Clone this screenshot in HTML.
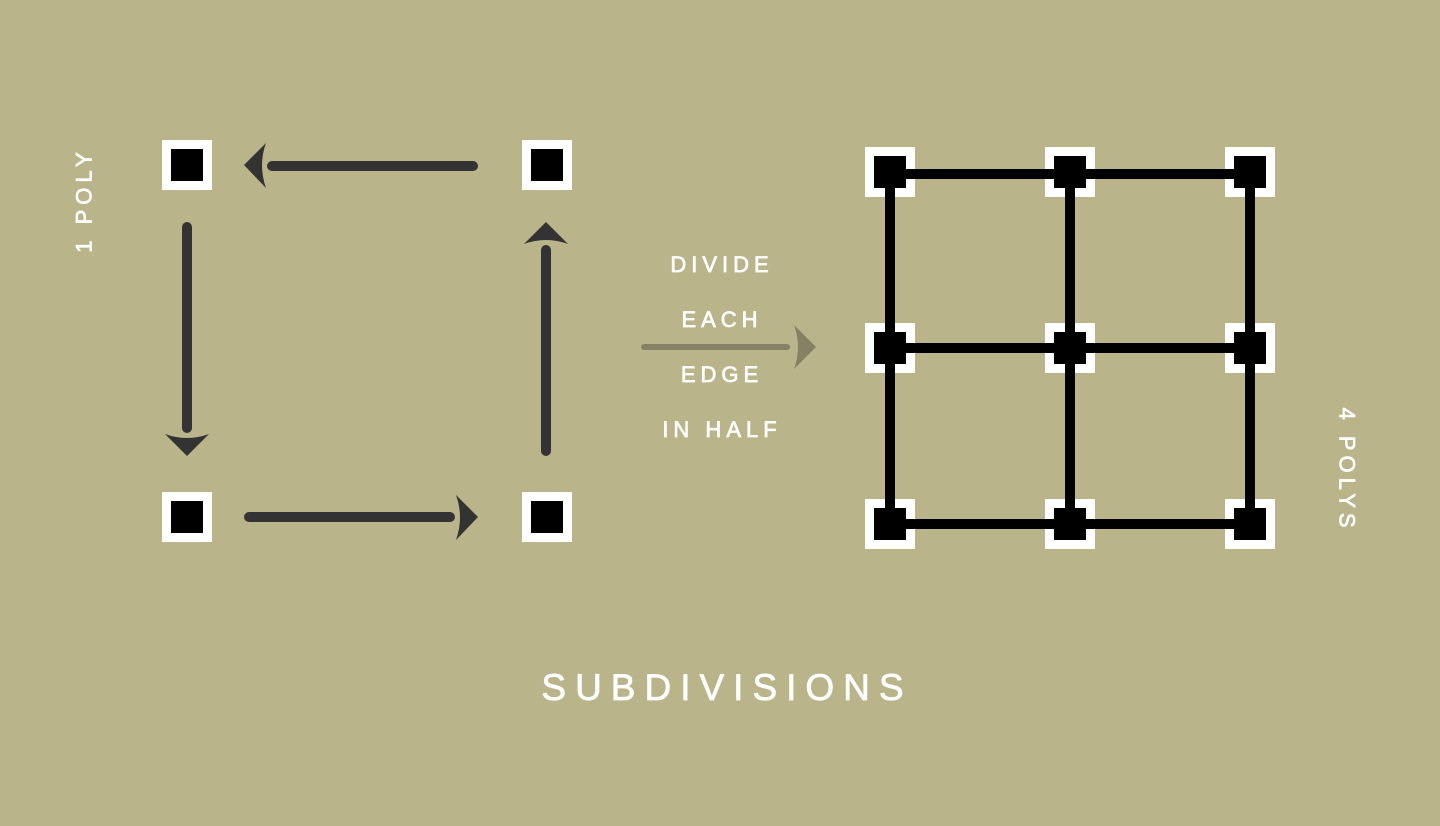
<!DOCTYPE html>
<html><head><meta charset="utf-8"><style>
html,body{margin:0;padding:0;background:#b9b48a;}
svg{display:block}
text{font-family:"Liberation Sans",sans-serif;fill:#fff;stroke:#fff;stroke-width:0.7;}
</style></head><body>
<svg width="1440" height="826" viewBox="0 0 1440 826">
<rect width="1440" height="826" fill="#b9b48a"/>
<text x="84" y="200" font-size="22" letter-spacing="5" text-anchor="middle" dominant-baseline="central" transform="rotate(-90 84 200)">1 POLY</text>
<g>
 <g stroke="#333" stroke-width="10" stroke-linecap="round" fill="none">
  <line x1="473" y1="166" x2="272" y2="166"/>
  <line x1="187" y1="227" x2="187" y2="428"/>
  <line x1="249" y1="517" x2="450" y2="517"/>
  <line x1="546" y1="451" x2="546" y2="250"/>
 </g>
 <g fill="#333">
  <path d="M244 165 L266 143 Q258 165 266 188 Z"/>
  <path d="M187 456 L165 434 Q187 442 209 434 Z"/>
  <path d="M478 517 L456 495 Q464 517 456 540 Z"/>
  <path d="M546 222 L524 244 Q546 236 568 244 Z"/>
 </g>
 <g>
  <rect x="162" y="140" width="50" height="50" fill="#fff"/><rect x="171" y="149" width="32" height="32" fill="#000"/>
  <rect x="522" y="140" width="50" height="50" fill="#fff"/><rect x="531" y="149" width="32" height="32" fill="#000"/>
  <rect x="162" y="492" width="50" height="50" fill="#fff"/><rect x="171" y="501" width="32" height="32" fill="#000"/>
  <rect x="522" y="492" width="50" height="50" fill="#fff"/><rect x="531" y="501" width="32" height="32" fill="#000"/>
 </g>
</g>
<g font-size="22" letter-spacing="5" text-anchor="middle">
 <text x="722" y="272">DIVIDE</text>
 <text x="722" y="327">EACH</text>
 <text x="722" y="382">EDGE</text>
 <text x="722" y="437">IN HALF</text>
</g>
<line x1="644" y1="347" x2="787" y2="347" stroke="#868065" stroke-width="6" stroke-linecap="round"/>
<path d="M816 347 L794 325 Q802 347 794 369 Z" fill="#868065"/>
<g>
 <g id="gf"></g>
 <g stroke="#000" stroke-width="10">
  <line x1="890" y1="174" x2="1250" y2="174"/>
  <line x1="890" y1="348" x2="1250" y2="348"/>
  <line x1="890" y1="524" x2="1250" y2="524"/>
  <line x1="890" y1="172" x2="890" y2="524"/>
  <line x1="1070" y1="172" x2="1070" y2="524"/>
  <line x1="1250" y1="172" x2="1250" y2="524"/>
 </g>
 <g id="gv"></g>
</g>
<text x="1347" y="470" font-size="22" letter-spacing="5" text-anchor="middle" dominant-baseline="central" transform="rotate(90 1347 470)">4 POLYS</text>
<text x="727" y="700" font-size="37" letter-spacing="9" text-anchor="middle">SUBDIVISIONS</text>
</svg>
<script>
const cols=[890,1070,1250], rows=[172,348,524];
const gf=document.getElementById('gf');
const g=document.getElementById('gv');
const ns='http://www.w3.org/2000/svg';
rows.forEach(y=>cols.forEach(x=>{
 const o=document.createElementNS(ns,'rect');
 o.setAttribute('x',x-25);o.setAttribute('y',y-25);o.setAttribute('width',50);o.setAttribute('height',50);
 o.setAttribute('fill','#fff');
 
 
 gf.appendChild(o);
 const b=document.createElementNS(ns,'rect');
 b.setAttribute('x',x-16);b.setAttribute('y',y-16);b.setAttribute('width',32);b.setAttribute('height',32);b.setAttribute('fill','#000');
 
 
 g.appendChild(b);
}));
</script>
</body></html>
